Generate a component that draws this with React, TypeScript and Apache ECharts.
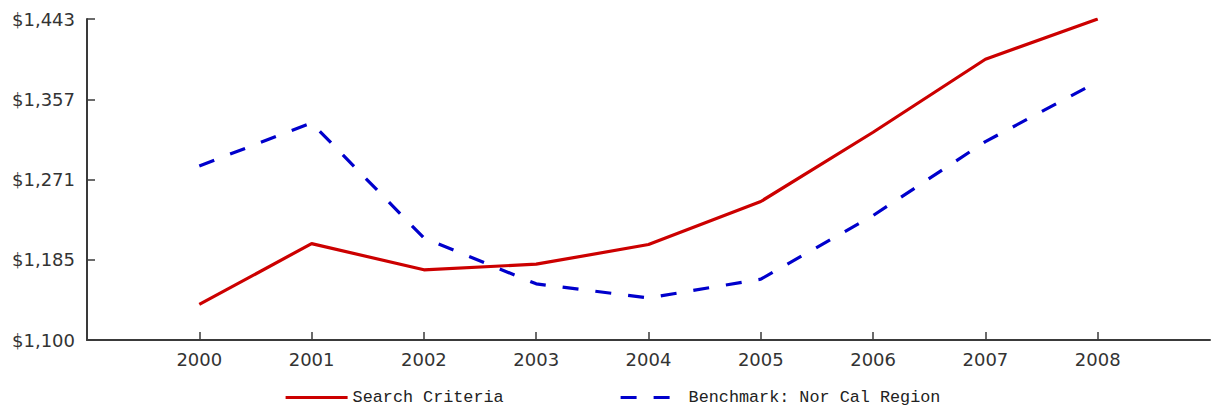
import React, { useEffect, useRef } from "react";
import * as echarts from "echarts";

// Yearly values
const years = [2000, 2001, 2002, 2003, 2004, 2005, 2006, 2007, 2008];
const searchCriteria = [1138, 1203, 1175, 1181, 1202, 1248, 1322, 1400, 1443];
const benchmarkNorCal = [1286, 1332, 1209, 1160, 1145, 1165, 1233, 1312, 1376];

// Axis ticks
const yTicks = [1100, 1185.75, 1271.5, 1357.25, 1443];
const xTicks = years;

const seriesNames = ["Search Criteria", "Benchmark: Nor Cal Region"];

const fmtMoney = (v: number) =>
  "$" + Math.floor(v).toLocaleString("en-US");

export default function App() {
  const ref = useRef<HTMLDivElement>(null);

  useEffect(() => {
    document.body.style.margin = "0";
    if (!ref.current) return;
    const chart = echarts.init(ref.current, null, { renderer: "svg" });

    const axisColor = "#3a3a3a";
    const labelFont = {
      color: "#333",
      fontFamily: "DejaVu Sans",
      fontSize: 18,
    };
    const legendText = {
      color: "#222",
      fontFamily: "Liberation Mono",
      fontSize: 16.8,
      lineHeight: 16,
    };

    chart.setOption({
      animation: false,
      backgroundColor: "#ffffff",
      grid: { left: 87, right: 2, top: 19, bottom: 70, containLabel: false },
      xAxis: {
        type: "value",
        min: 1999,
        max: 2009,
        axisLine: { show: true, lineStyle: { color: axisColor, width: 2 } },
        axisTick: {
          show: true,
          inside: true,
          length: 8,
          customValues: xTicks,
          lineStyle: { color: axisColor, width: 1.5 },
        },
        axisLabel: {
          customValues: xTicks,
          margin: 10,
          formatter: (v: number) => String(v),
          ...labelFont,
        },
        splitLine: { show: false },
      },
      yAxis: {
        type: "value",
        min: 1100,
        max: 1443,
        axisLine: { show: true, lineStyle: { color: axisColor, width: 2 } },
        axisTick: {
          show: true,
          inside: true,
          length: 8,
          customValues: yTicks,
          lineStyle: { color: axisColor, width: 1.5 },
        },
        axisLabel: {
          customValues: yTicks,
          margin: 12,
          formatter: fmtMoney,
          ...labelFont,
        },
        splitLine: { show: false },
      },
      legend: [
        {
          data: [seriesNames[0]],
          left: 284,
          top: 389,
          padding: 0,
          itemWidth: 62,
          itemHeight: 16,
          itemStyle: { opacity: 0 },
          lineStyle: { width: 3.2 },
          textStyle: legendText,
        },
        {
          data: [seriesNames[1]],
          left: 619,
          top: 389,
          padding: 0,
          itemWidth: 50,
          itemHeight: 16,
          itemStyle: { opacity: 0 },
          lineStyle: { width: 3.2 },
          textStyle: { ...legendText, padding: [0, 0, 0, 13] },
        },
      ],
      series: [
        {
          name: seriesNames[0],
          type: "line",
          data: years.map((y, i) => [y, searchCriteria[i]]),
          showSymbol: false,
          symbol: "none",
          lineStyle: { color: "#cc0000", width: 3.2 },
          itemStyle: { color: "#cc0000" },
        },
        {
          name: seriesNames[1],
          type: "line",
          data: years.map((y, i) => [y, benchmarkNorCal[i]]),
          showSymbol: false,
          symbol: "none",
          lineStyle: { color: "#0000cc", width: 3.2, type: [16, 17] },
          itemStyle: { color: "#0000cc" },
        },
      ],
    });

    return () => chart.dispose();
  }, []);

  return <div ref={ref} style={{ width: 1212, height: 410 }} />;
}
